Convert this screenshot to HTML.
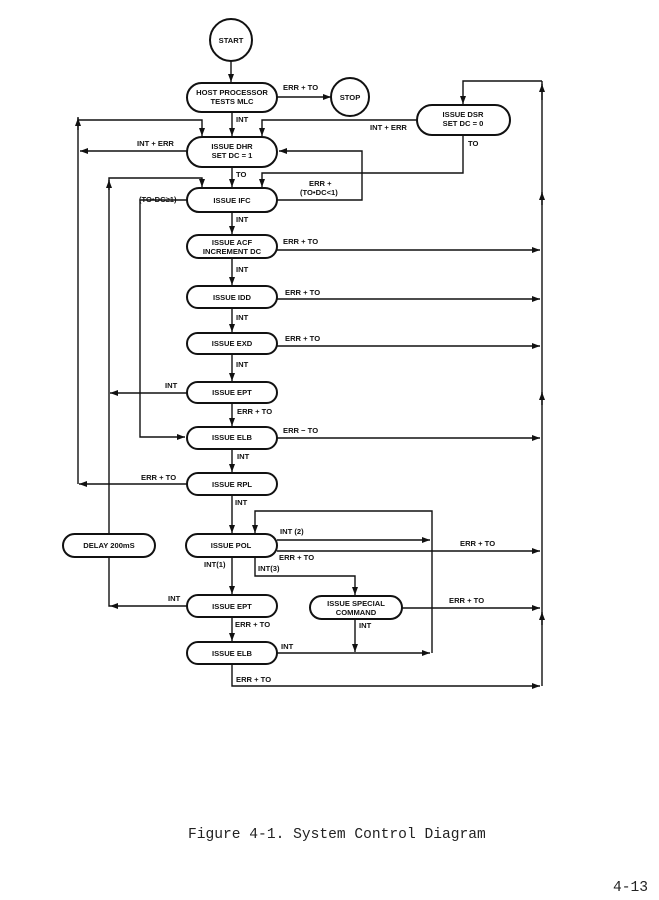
<!DOCTYPE html>
<html><head><meta charset="utf-8"><style>
html,body{margin:0;padding:0;background:#fff;}
svg{display:block;}
.t{font-family:"Liberation Sans",Arial,sans-serif;font-size:7.6px;font-weight:bold;fill:#111;}
.c{text-anchor:middle;}
.ln{stroke:#111;stroke-width:1.4;fill:none;}
.bx{stroke:#111;stroke-width:2;fill:#fff;}
.m{font-family:"Liberation Mono",monospace;font-size:14.6px;fill:#222;}
</style></head><body>
<svg width="659" height="900" viewBox="0 0 659 900" xmlns="http://www.w3.org/2000/svg">
<defs><marker id="a" markerWidth="8" markerHeight="6" refX="8" refY="3" orient="auto" markerUnits="userSpaceOnUse"><path d="M0,0 L8,3 L0,6 z" fill="#111"/></marker></defs>

<!-- connectors -->
<g class="ln">
<path d="M231,61 V82" marker-end="url(#a)"/>
<path d="M277,97 H331" marker-end="url(#a)"/>
<path d="M232,112 V136" marker-end="url(#a)"/>
<path d="M78,484 V117" /><path d="M78,130 V118" marker-end="url(#a)"/>
<path d="M78,120 H202 V136" marker-end="url(#a)"/>
<path d="M417,120 H262 V136" marker-end="url(#a)"/>
<path d="M187,151 H80" marker-end="url(#a)"/>
<path d="M542,81 H463 V104" marker-end="url(#a)"/>
<path d="M463,135 V173 H262 V187" marker-end="url(#a)"/>
<path d="M277,200 H362 V151 H279" marker-end="url(#a)"/>
<path d="M232,167 V187" marker-end="url(#a)"/>
<path d="M109,533 V178 H202 V187" marker-end="url(#a)"/>
<path d="M109,190 V180" marker-end="url(#a)"/>
<path d="M187,200 H140 V437 H185" marker-end="url(#a)"/>
<path d="M232,212 V234" marker-end="url(#a)"/>
<path d="M277,250 H540" marker-end="url(#a)"/>
<path d="M232,258 V285" marker-end="url(#a)"/>
<path d="M277,299 H540" marker-end="url(#a)"/>
<path d="M232,308 V332" marker-end="url(#a)"/>
<path d="M277,346 H540" marker-end="url(#a)"/>
<path d="M232,354 V381" marker-end="url(#a)"/>
<path d="M187,393 H110" marker-end="url(#a)"/>
<path d="M232,403 V426" marker-end="url(#a)"/>
<path d="M277,438 H540" marker-end="url(#a)"/>
<path d="M232,449 V472" marker-end="url(#a)"/>
<path d="M187,484 H79" marker-end="url(#a)"/>
<path d="M232,495 V533" marker-end="url(#a)"/>
<path d="M432,653 V511 H255 V533" marker-end="url(#a)"/>
<path d="M277,540 H430" marker-end="url(#a)"/>
<path d="M277,551 H540" marker-end="url(#a)"/>
<path d="M232,557 V594" marker-end="url(#a)"/>
<path d="M255,557 V576 H355 V595" marker-end="url(#a)"/>
<path d="M109,557 V606 H110"/>
<path d="M187,606 H110" marker-end="url(#a)"/>
<path d="M402,608 H540" marker-end="url(#a)"/>
<path d="M232,617 V641" marker-end="url(#a)"/>
<path d="M355,619 V652" marker-end="url(#a)"/>
<path d="M277,653 H430" marker-end="url(#a)"/>
<path d="M232,664 V686 H540" marker-end="url(#a)"/>
<path d="M542,686 V81"/>
<path d="M542,100 V84" marker-end="url(#a)"/>
<path d="M542,205 V192" marker-end="url(#a)"/>
<path d="M542,405 V392" marker-end="url(#a)"/>
<path d="M542,625 V612" marker-end="url(#a)"/>
</g>

<!-- nodes -->
<g class="bx">
<circle cx="231" cy="40" r="21"/>
<circle cx="350" cy="97" r="19"/>
<rect x="187" y="83" width="90" height="29" rx="14.5"/>
<rect x="187" y="137" width="90" height="30" rx="15"/>
<rect x="417" y="105" width="93" height="30" rx="15"/>
<rect x="187" y="188" width="90" height="24" rx="12"/>
<rect x="187" y="235" width="90" height="23" rx="11.5"/>
<rect x="187" y="286" width="90" height="22" rx="11"/>
<rect x="187" y="333" width="90" height="21" rx="10.5"/>
<rect x="187" y="382" width="90" height="21" rx="10.5"/>
<rect x="187" y="427" width="90" height="22" rx="11"/>
<rect x="187" y="473" width="90" height="22" rx="11"/>
<rect x="186" y="534" width="91" height="23" rx="11.5"/>
<rect x="63" y="534" width="92" height="23" rx="11.5"/>
<rect x="187" y="595" width="90" height="22" rx="11"/>
<rect x="310" y="596" width="92" height="23" rx="11.5"/>
<rect x="187" y="642" width="90" height="22" rx="11"/>
</g>

<!-- node text -->
<g class="t c">
<text x="231" y="43">START</text>
<text x="350" y="100">STOP</text>
<text x="232" y="95">HOST PROCESSOR</text><text x="232" y="104">TESTS MLC</text>
<text x="232" y="149">ISSUE DHR</text><text x="232" y="158">SET DC = 1</text>
<text x="463" y="117">ISSUE DSR</text><text x="463" y="126">SET DC = 0</text>
<text x="232" y="203">ISSUE IFC</text>
<text x="232" y="245">ISSUE ACF</text><text x="232" y="254">INCREMENT DC</text>
<text x="232" y="300">ISSUE IDD</text>
<text x="232" y="346">ISSUE EXD</text>
<text x="232" y="395">ISSUE EPT</text>
<text x="232" y="440">ISSUE ELB</text>
<text x="232" y="487">ISSUE RPL</text>
<text x="231" y="548">ISSUE POL</text>
<text x="109" y="548">DELAY 200mS</text>
<text x="232" y="609">ISSUE EPT</text>
<text x="356" y="606">ISSUE SPECIAL</text><text x="356" y="615">COMMAND</text>
<text x="232" y="656">ISSUE ELB</text>
</g>

<!-- connector labels -->
<g class="t">
<text x="283" y="90">ERR + TO</text>
<text x="236" y="122">INT</text>
<text x="370" y="130">INT + ERR</text>
<text x="137" y="146">INT + ERR</text>
<text x="468" y="146">TO</text>
<text x="236" y="177">TO</text>
<text x="309" y="186">ERR +</text>
<text x="300" y="195">(TO•DC&lt;1)</text>
<text x="139" y="202">(TO•DC≥1)</text>
<text x="236" y="222">INT</text>
<text x="283" y="244">ERR + TO</text>
<text x="236" y="272">INT</text>
<text x="285" y="295">ERR + TO</text>
<text x="236" y="320">INT</text>
<text x="285" y="341">ERR + TO</text>
<text x="236" y="367">INT</text>
<text x="165" y="388">INT</text>
<text x="237" y="414">ERR + TO</text>
<text x="283" y="433">ERR − TO</text>
<text x="237" y="459">INT</text>
<text x="141" y="480">ERR + TO</text>
<text x="235" y="505">INT</text>
<text x="280" y="534">INT (2)</text>
<text x="460" y="546">ERR + TO</text>
<text x="279" y="560">ERR + TO</text>
<text x="204" y="567">INT(1)</text>
<text x="258" y="571">INT(3)</text>
<text x="168" y="601">INT</text>
<text x="449" y="603">ERR + TO</text>
<text x="235" y="627">ERR + TO</text>
<text x="359" y="628">INT</text>
<text x="281" y="649">INT</text>
<text x="236" y="682">ERR + TO</text>
</g>

<text class="m" x="188" y="838">Figure 4-1.  System Control Diagram</text>
<text class="m" x="613" y="891">4-13</text>
</svg>
</body></html>
